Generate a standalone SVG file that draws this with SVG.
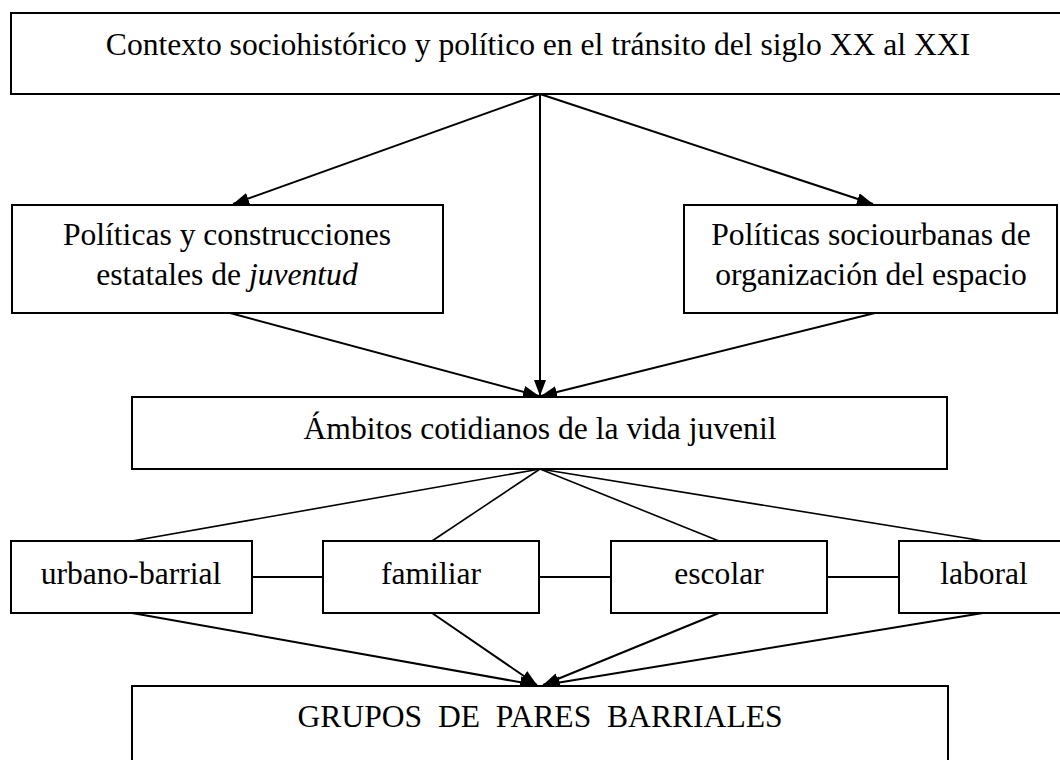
<svg xmlns="http://www.w3.org/2000/svg" width="1060" height="760" viewBox="0 0 1060 760">
<style>
.box{fill:#fff;stroke:#000;stroke-width:2}
.t{font-family:"Liberation Serif","Times New Roman",serif;font-size:31.6px;fill:#000;text-anchor:middle}
.ln{stroke:#000;stroke-width:2;fill:none}
.thin{stroke:#000;stroke-width:1.6;fill:none}
</style>
<defs>
<marker id="ah" markerUnits="userSpaceOnUse" markerWidth="18" markerHeight="14" refX="16" refY="6" orient="auto">
<path d="M0,0 L16,6 L0,12 Z" fill="#000"/>
</marker>
</defs>
<rect width="1060" height="760" fill="#fff"/>
<g id="connectors">
<line class="ln" x1="540" y1="94" x2="540" y2="396" marker-end="url(#ah)"/>
<line class="ln" x1="540" y1="94" x2="233" y2="204" marker-end="url(#ah)"/>
<line class="ln" x1="540" y1="94" x2="873" y2="204" marker-end="url(#ah)"/>
<line class="ln" x1="230" y1="313" x2="539" y2="396" marker-end="url(#ah)"/>
<line class="ln" x1="875" y1="313" x2="541" y2="396" marker-end="url(#ah)"/>
<line class="thin" x1="540" y1="469" x2="132" y2="541"/>
<line class="thin" x1="540" y1="469" x2="432" y2="541"/>
<line class="thin" x1="540" y1="469" x2="719" y2="541"/>
<line class="thin" x1="540" y1="469" x2="984" y2="541"/>
<line class="ln" x1="252" y1="577" x2="323" y2="577"/>
<line class="ln" x1="539" y1="577" x2="611" y2="577"/>
<line class="ln" x1="827" y1="577" x2="899" y2="577"/>
<line class="ln" x1="132" y1="613" x2="536" y2="685" marker-end="url(#ah)"/>
<line class="ln" x1="432" y1="613" x2="537" y2="685" marker-end="url(#ah)"/>
<line class="ln" x1="719" y1="613" x2="543" y2="685" marker-end="url(#ah)"/>
<line class="ln" x1="983" y1="613" x2="544" y2="685" marker-end="url(#ah)"/>
</g>
<g id="contexto">
<rect class="box" x="11" y="13" width="1056" height="81"/>
<text class="t" x="538" y="55">Contexto sociohistórico y político en el tránsito del siglo XX al XXI</text>
</g>
<g id="politicas-juventud">
<rect class="box" x="12" y="205" width="431" height="108"/>
<text class="t" x="227" y="245">Políticas y construcciones</text>
<text class="t" x="227" y="285">estatales de <tspan font-style="italic">juventud</tspan></text>
</g>
<g id="politicas-socio">
<rect class="box" x="684" y="205" width="373" height="108"/>
<text class="t" x="871" y="245">Políticas sociourbanas de</text>
<text class="t" x="871" y="285">organización del espacio</text>
</g>
<g id="ambitos">
<rect class="box" x="132" y="397" width="815" height="72"/>
<text class="t" x="540" y="439">Ámbitos cotidianos de la vida juvenil</text>
</g>
<g id="urbano">
<rect class="box" x="11" y="541" width="241" height="72"/>
<text class="t" x="131" y="584">urbano-barrial</text>
</g>
<g id="familiar">
<rect class="box" x="323" y="541" width="216" height="72"/>
<text class="t" x="431" y="584">familiar</text>
</g>
<g id="escolar">
<rect class="box" x="611" y="541" width="216" height="72"/>
<text class="t" x="719" y="584">escolar</text>
</g>
<g id="laboral">
<rect class="box" x="899" y="541" width="170" height="72"/>
<text class="t" x="984" y="584">laboral</text>
</g>
<g id="grupos">
<rect class="box" x="132" y="686" width="816" height="90"/>
<text class="t" x="540" y="727" xml:space="preserve">GRUPOS  DE  PARES  BARRIALES</text>
</g>
</svg>
